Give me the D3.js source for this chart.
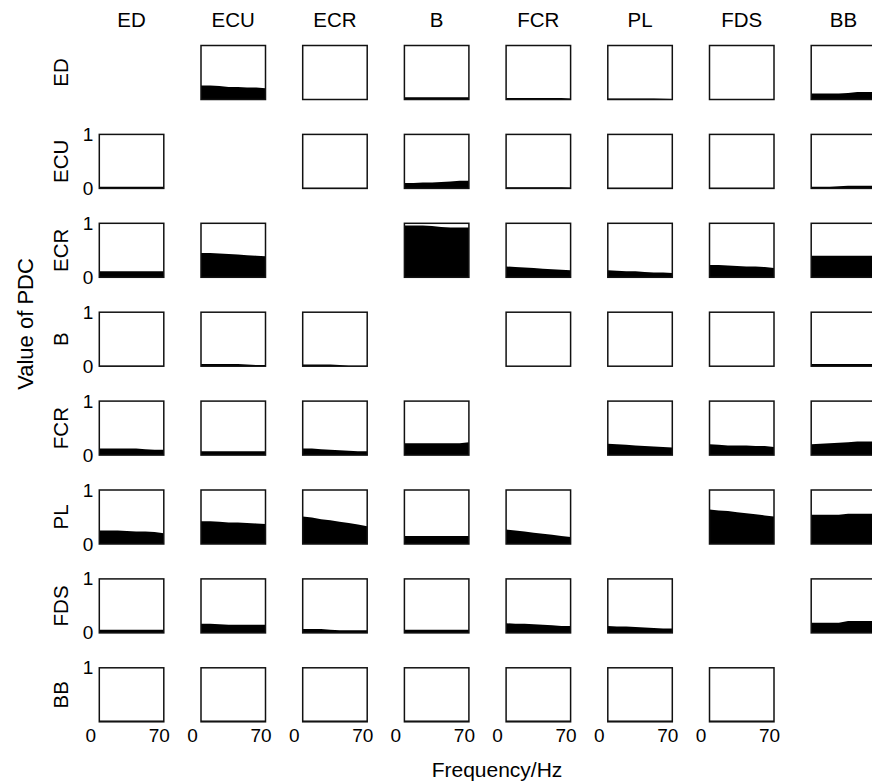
<!DOCTYPE html>
<html>
<head>
<meta charset="utf-8">
<script src="https://cdn.jsdelivr.net/npm/d3@7"></script>
<style>
  body { margin: 0; background: #fff; }
  svg { display: block; font-family: "Liberation Sans", Arial, Helvetica, sans-serif; }
</style>
</head>
<body>
<div id="chart"></div>
<script>
// channel names (rows = target, columns = source)
const channels = ['ED', 'ECU', 'ECR', 'B', 'FCR', 'PL', 'FDS', 'BB'];

// frequency points of each PDC curve (Hz)
const freqs = [0, 10, 20, 30, 40, 50, 60, 70];
const xTicks = [0, 70];
const yTicks = [0, 1];

// PDC values, one array per row, one curve per column (null = diagonal)
const rowED = [
    null,
    [0.26, 0.26, 0.25, 0.23, 0.23, 0.22, 0.22, 0.21],
    [0.01, 0.01, 0.01, 0.01, 0.01, 0.01, 0.01, 0.01],
    [0.04, 0.04, 0.04, 0.04, 0.04, 0.04, 0.04, 0.04],
    [0.03, 0.03, 0.03, 0.03, 0.03, 0.03, 0.03, 0.02],
    [0.02, 0.02, 0.02, 0.02, 0.02, 0.02, 0.015, 0.01],
    [0.01, 0.01, 0.01, 0.01, 0.01, 0.01, 0.01, 0.01],
    [0.11, 0.11, 0.11, 0.11, 0.12, 0.14, 0.14, 0.14]
];
const rowECU = [
    [0.03, 0.03, 0.03, 0.03, 0.03, 0.03, 0.03, 0.03],
    null,
    [0.01, 0.01, 0.01, 0.01, 0.01, 0.01, 0.01, 0.01],
    [0.10, 0.10, 0.11, 0.11, 0.12, 0.13, 0.14, 0.14],
    [0.02, 0.02, 0.02, 0.02, 0.02, 0.02, 0.02, 0.015],
    [0.01, 0.01, 0.01, 0.01, 0.01, 0.01, 0.01, 0.01],
    [0.01, 0.01, 0.01, 0.01, 0.01, 0.01, 0.01, 0.01],
    [0.03, 0.03, 0.03, 0.04, 0.05, 0.05, 0.05, 0.05]
];
const rowECR = [
    [0.11, 0.11, 0.11, 0.11, 0.11, 0.11, 0.11, 0.11],
    [0.45, 0.45, 0.44, 0.43, 0.42, 0.41, 0.40, 0.39],
    null,
    [0.96, 0.96, 0.96, 0.95, 0.93, 0.92, 0.92, 0.92],
    [0.20, 0.19, 0.18, 0.17, 0.16, 0.15, 0.14, 0.13],
    [0.13, 0.12, 0.11, 0.11, 0.10, 0.09, 0.09, 0.08],
    [0.23, 0.23, 0.22, 0.21, 0.20, 0.20, 0.19, 0.17],
    [0.40, 0.40, 0.40, 0.40, 0.40, 0.40, 0.40, 0.40]
];
const rowB = [
    [0.01, 0.01, 0.01, 0.01, 0.01, 0.01, 0.01, 0.01],
    [0.04, 0.04, 0.04, 0.04, 0.04, 0.03, 0.02, 0.02],
    [0.03, 0.03, 0.03, 0.03, 0.02, 0.01, 0.01, 0.01],
    null,
    [0, 0, 0, 0, 0, 0, 0, 0],
    [0, 0, 0, 0, 0, 0, 0, 0],
    [0, 0, 0, 0, 0, 0, 0, 0],
    [0.04, 0.04, 0.04, 0.04, 0.04, 0.04, 0.04, 0.04]
];
const rowFCR = [
    [0.12, 0.12, 0.12, 0.12, 0.12, 0.11, 0.10, 0.10],
    [0.07, 0.07, 0.07, 0.07, 0.07, 0.07, 0.07, 0.07],
    [0.12, 0.12, 0.11, 0.10, 0.09, 0.08, 0.07, 0.07],
    [0.22, 0.22, 0.22, 0.22, 0.22, 0.22, 0.22, 0.24],
    null,
    [0.21, 0.20, 0.19, 0.18, 0.17, 0.16, 0.15, 0.14],
    [0.20, 0.19, 0.18, 0.18, 0.18, 0.17, 0.17, 0.15],
    [0.20, 0.21, 0.22, 0.23, 0.24, 0.25, 0.25, 0.25]
];
const rowPL = [
    [0.25, 0.25, 0.25, 0.24, 0.23, 0.23, 0.22, 0.20],
    [0.42, 0.42, 0.41, 0.40, 0.40, 0.39, 0.38, 0.37],
    [0.51, 0.49, 0.46, 0.44, 0.41, 0.39, 0.36, 0.33],
    [0.15, 0.15, 0.15, 0.15, 0.15, 0.15, 0.15, 0.15],
    [0.27, 0.25, 0.23, 0.21, 0.19, 0.17, 0.15, 0.13],
    null,
    [0.64, 0.62, 0.61, 0.59, 0.57, 0.55, 0.53, 0.51],
    [0.54, 0.54, 0.54, 0.54, 0.56, 0.56, 0.56, 0.56]
];
const rowFDS = [
    [0.06, 0.06, 0.06, 0.06, 0.06, 0.06, 0.06, 0.06],
    [0.17, 0.17, 0.16, 0.15, 0.15, 0.15, 0.15, 0.15],
    [0.07, 0.07, 0.07, 0.06, 0.05, 0.05, 0.05, 0.05],
    [0.06, 0.06, 0.06, 0.06, 0.06, 0.06, 0.06, 0.06],
    [0.18, 0.17, 0.17, 0.16, 0.15, 0.14, 0.13, 0.13],
    [0.13, 0.12, 0.12, 0.11, 0.10, 0.09, 0.08, 0.08],
    null,
    [0.19, 0.19, 0.19, 0.19, 0.22, 0.22, 0.22, 0.22]
];
const rowBB = [
    [0.025, 0.025, 0.025, 0.025, 0.025, 0.025, 0.025, 0.025],
    [0.025, 0.025, 0.025, 0.025, 0.025, 0.025, 0.025, 0.025],
    [0.025, 0.025, 0.025, 0.025, 0.025, 0.025, 0.025, 0.025],
    [0.025, 0.025, 0.025, 0.025, 0.025, 0.025, 0.025, 0.025],
    [0.025, 0.025, 0.025, 0.025, 0.025, 0.025, 0.025, 0.025],
    [0.025, 0.025, 0.025, 0.025, 0.025, 0.025, 0.025, 0.025],
    [0.025, 0.025, 0.025, 0.025, 0.025, 0.025, 0.025, 0.025],
    null
];
const rows = [rowED, rowECU, rowECR, rowB, rowFCR, rowPL, rowFDS, rowBB];

// layout
const W = 872, H = 783;
const left0 = 99.3, top0 = 45.5;
const colStep = 101.7, rowStep = 88.9;
const boxW = 64.5, boxH = 54;
const n = channels.length;

const svg = d3.select('#chart')
    .append('svg')
    .attr('width', W)
    .attr('height', H);

// scales shared by all the small panels
const x = d3.scaleLinear().domain([0, 70]).range([0, boxW]);
const y = d3.scaleLinear().domain([0, 1]).range([boxH, 0]);

const area = d3.area()
    .x((d, i) => x(freqs[i]))
    .y0(y(0))
    .y1(d => y(d));

rows.forEach((row, r) => {
    row.forEach((vals, c) => {
        if (!vals) return;
        const g = svg.append('g')
            .attr('transform', `translate(${left0 + c * colStep}, ${top0 + r * rowStep})`);

        // filled PDC curve
        g.append('path')
            .datum(vals)
            .attr('fill', '#000')
            .attr('d', area);

        // panel frame
        g.append('rect')
            .attr('width', boxW)
            .attr('height', boxH)
            .attr('fill', 'none')
            .attr('stroke', '#111')
            .attr('stroke-width', 1.5);

        // y ticks on the first panel of each row
        if (c === 0) {
            const yAxis = g.append('g')
                .call(d3.axisLeft(y)
                    .tickValues(r === n - 1 ? [1] : yTicks)
                    .tickSize(0)
                    .tickPadding(6)
                    .tickFormat(d3.format('d')));
            yAxis.select('.domain').remove();
            yAxis.selectAll('text')
                .attr('font-size', '19px')
                .attr('font-family', null)
                .attr('fill', '#000');
        }

        // x ticks on the last row
        if (r === n - 1) {
            const xAxis = g.append('g')
                .attr('transform', `translate(0, ${boxH})`)
                .call(d3.axisBottom(x)
                    .tickValues(xTicks)
                    .tickSize(0)
                    .tickPadding(7));
            xAxis.select('.domain').remove();
            xAxis.selectAll('text')
                .attr('font-size', '19px')
                .attr('font-family', null)
                .attr('fill', '#000')
                .attr('dx', d => d === 0 ? -9 : -5);
        }
    });
});

// column titles
svg.append('g')
    .selectAll('text')
    .data(channels)
    .join('text')
    .attr('x', (d, i) => left0 + i * colStep + boxW / 2)
    .attr('y', 27)
    .attr('text-anchor', 'middle')
    .attr('font-size', '20.5px')
    .text(d => d);

// row titles (rotated)
svg.append('g')
    .selectAll('text')
    .data(channels)
    .join('text')
    .attr('transform', (d, i) => `translate(68, ${top0 + i * rowStep + boxH / 2}) rotate(-90)`)
    .attr('text-anchor', 'middle')
    .attr('font-size', '20.5px')
    .text(d => d);

// axis titles
svg.append('text')
    .attr('transform', 'translate(33, 324) rotate(-90)')
    .attr('text-anchor', 'middle')
    .attr('font-size', '22px')
    .text('Value of PDC');

svg.append('text')
    .attr('x', 497)
    .attr('y', 777)
    .attr('text-anchor', 'middle')
    .attr('font-size', '21px')
    .text('Frequency/Hz');
</script>
</body>
</html>
